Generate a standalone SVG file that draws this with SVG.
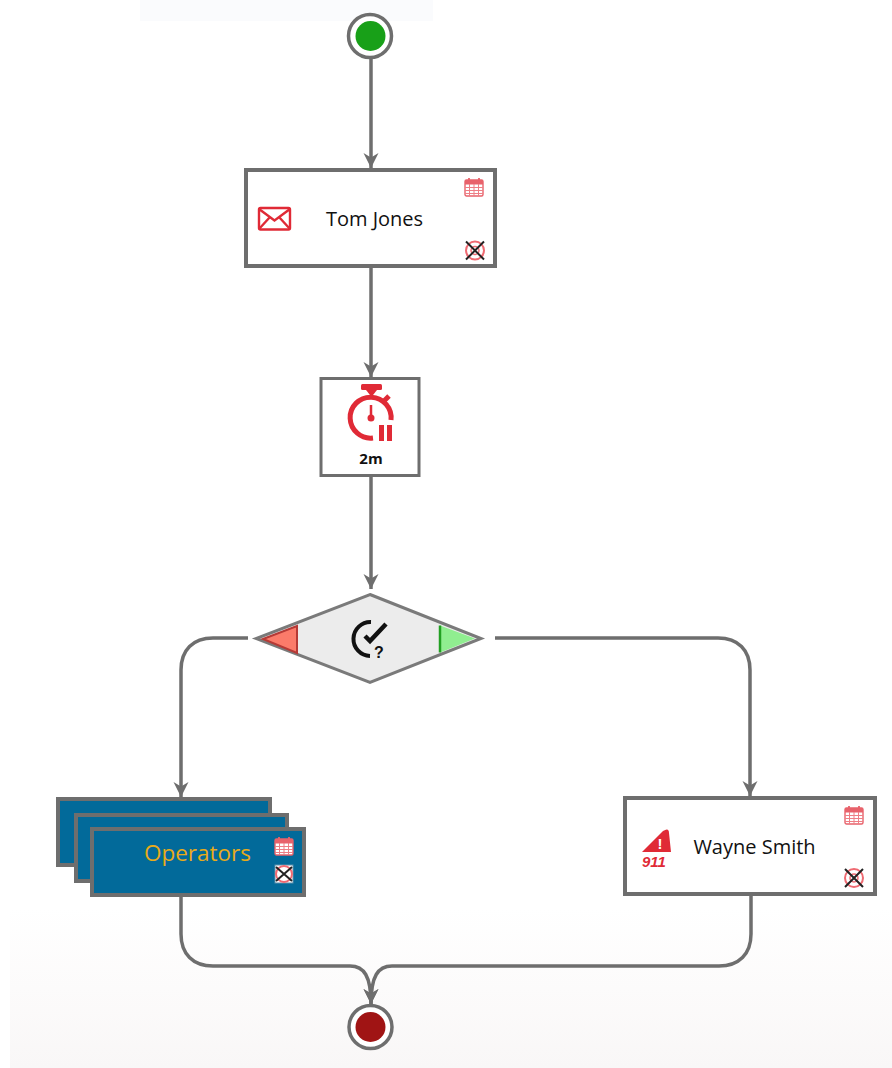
<svg xmlns="http://www.w3.org/2000/svg" xmlns:xlink="http://www.w3.org/1999/xlink" width="892" height="1068" viewBox="0 0 892 1068">
<style>
.box{fill:#fff;stroke:#6e6e6e;stroke-width:4}
.op{fill:#026a9a;stroke:#6e6e6e;stroke-width:4}
.ring{fill:#fff;stroke:#6e6e6e;stroke-width:3.5}
.conn{fill:none;stroke:#6e6e6e;stroke-width:3.500;stroke-linecap:butt}
.lbl{font-family:"Open Sans","Noto Sans","Liberation Sans",sans-serif;font-size:20px;fill:#111}
.red{fill:none;stroke:#e02a36;stroke-width:2.400}
</style>
<defs>
<linearGradient id="bg" x1="0" y1="0" x2="0" y2="1">
<stop offset="0" stop-color="#fff"/><stop offset="0.85" stop-color="#fff"/><stop offset="1" stop-color="#f9f7f7"/>
</linearGradient>
<marker id="arrow" markerUnits="userSpaceOnUse" markerWidth="18" markerHeight="20" refX="15" refY="10" orient="auto">
<path d="M0 2.500L15 10L0 17.500L4.500 10Z" fill="#6e6e6e"/>
</marker>
<g id="calendar">
<rect x="0" y="2" width="18" height="16" rx="1.500" fill="#fff" stroke="#e8626b" stroke-width="1.400"/>
<rect x="0" y="2" width="18" height="4.500" fill="#e8626b"/>
<path d="M4 0V3M14 0V3" stroke="#e8626b" stroke-width="1.800"/>
<path d="M0 9.500H18M0 12.500H18M0 15.500H18M4.500 6V18M9 6V18M13.500 6V18" stroke="#ee7f86" stroke-width="1"/>
</g>
<g id="nocircle">
<circle cx="10" cy="10" r="9" fill="#fff" stroke="#ef6a72" stroke-width="2"/>
<circle cx="10" cy="10" r="4" fill="none" stroke="#ef6a72" stroke-width="1.500"/>
<path d="M1 1L19 19M19 1L1 19" stroke="#222" stroke-width="2"/>
</g>
</defs>
<rect id="background" x="10" y="0" width="882" height="1068" fill="url(#bg)"/>
<rect id="title-band" x="140" y="0" width="293" height="21" fill="#fafbfd"/>

<g id="connectors">
<path class="conn" d="M371 59V168" marker-end="url(#arrow)"/>
<path class="conn" d="M371 268V377" marker-end="url(#arrow)"/>
<path class="conn" d="M371 477V589" marker-end="url(#arrow)"/>
<path class="conn" d="M248 638H213C193 638 181 650 181 670V797" marker-end="url(#arrow)"/>
<path class="conn" d="M495 638H718C738 638 750 650 750 670V796" marker-end="url(#arrow)"/>
<path class="conn" d="M181 897V934C181 954 193 966 213 966H350C364 966 371 976 371 1004" marker-end="url(#arrow)"/>
<path class="conn" d="M751 896V934C751 954 739 966 719 966H392C378 966 371 976 371 1004" marker-end="url(#arrow)"/>
</g>

<g id="start">
<circle class="ring" cx="370" cy="36" r="21.500"/>
<circle cx="370.500" cy="36" r="15" fill="#18a018"/>
</g>

<g id="tom-jones">
<rect class="box" x="246" y="170" width="249" height="96"/>
<g transform="translate(258,207)">
<rect x="1" y="1" width="31" height="21.500" rx="1.500" class="red"/>
<path d="M1 2L16.500 13.500L32 2M1 22L12 10M32 22L21 10" class="red"/>
</g>
<use xlink:href="#calendar" href="#calendar" x="465" y="178"/>
<use xlink:href="#nocircle" href="#nocircle" x="465" y="240.500"/>
<text class="lbl" x="374.500" y="225.500" text-anchor="middle">Tom Jones</text>
</g>

<g id="timer">
<rect x="321" y="378.500" width="98" height="97" fill="#fff" stroke="#6e6e6e" stroke-width="3"/>
<rect x="361" y="384" width="21" height="6" rx="1.500" fill="#e02a36"/>
<path d="M366 390H377L373 395H370Z" fill="#e02a36"/>
<path d="M373 438A20.500 20.500 0 1 1 391 420" fill="none" stroke="#e02a36" stroke-width="5"/>
<path d="M384 401L389 396" stroke="#e02a36" stroke-width="5"/>
<path d="M371 405V416" stroke="#e02a36" stroke-width="2.500"/>
<circle cx="371" cy="418" r="3.500" fill="#e02a36"/>
<rect x="379" y="425" width="5" height="16" fill="#e02a36"/>
<rect x="387" y="425" width="5" height="16" fill="#e02a36"/>
<text x="371" y="463.500" text-anchor="middle" font-family="'Open Sans','Liberation Sans',sans-serif" font-size="15" font-weight="700" fill="#111">2m</text>
</g>

<g id="decision">
<path d="M370 594.500L481 638.500L370 682.500L256 638.500Z" fill="#ececec" stroke="#7a7a7a" stroke-width="3"/>
<path d="M263 639L297 626V653Z" fill="#fb7b6a" stroke="#b63a36" stroke-width="2"/>
<path d="M475 638.500L440 625.500V652.500L444 651L475 638.500Z" fill="#90ee90"/>
<path d="M440 625.500V652.500" stroke="#22a022" stroke-width="2.500"/>
<path d="M371 622A15.500 15.500 0 1 0 370 656" fill="none" stroke="#111" stroke-width="4"/>
<path d="M365 636L370 641L386 624" fill="none" stroke="#111" stroke-width="4.500"/>
<text x="379" y="658" text-anchor="middle" font-family="'Liberation Sans',sans-serif" font-size="16" font-weight="700" fill="#111">?</text>
</g>

<g id="operators">
<rect class="op" x="58" y="799" width="212" height="66"/>
<rect class="op" x="76" y="815" width="211" height="66"/>
<rect class="op" x="92" y="829" width="212" height="66"/>
<text x="197.500" y="861" text-anchor="middle" font-family="'Open Sans','Noto Sans','Liberation Sans',sans-serif" font-size="22.500" fill="#e8ab1a">Operators</text>
<use xlink:href="#calendar" href="#calendar" x="275" y="837"/>
<g transform="translate(275,865)">
<rect x="0" y="0" width="18" height="18" fill="#fff" stroke="#5c8fab"/>
<circle cx="9" cy="9" r="8" fill="#fff" stroke="#ef6a72" stroke-width="2"/>
<path d="M1 2L17 16M17 2L1 16" stroke="#222" stroke-width="2"/>
</g>
</g>

<g id="wayne-smith">
<rect class="box" x="625" y="798" width="250" height="96"/>
<path d="M642 852L663 831Q669 827 669 833L671 852Z" fill="#e02a36"/>
<text x="660" y="849" text-anchor="middle" font-family="'Liberation Sans',sans-serif" font-size="15" font-weight="700" fill="#fff">!</text>
<text x="654" y="867" text-anchor="middle" font-family="'Liberation Sans',sans-serif" font-size="15" font-weight="700" font-style="italic" fill="#e02a36">911</text>
<use xlink:href="#calendar" href="#calendar" x="845" y="806"/>
<use xlink:href="#nocircle" href="#nocircle" x="844" y="868"/>
<text class="lbl" x="754.500" y="853.500" text-anchor="middle">Wayne Smith</text>
</g>

<g id="end">
<circle class="ring" cx="370.500" cy="1027" r="21.500"/>
<circle cx="370.500" cy="1027" r="15" fill="#a01414"/>
</g>
</svg>
